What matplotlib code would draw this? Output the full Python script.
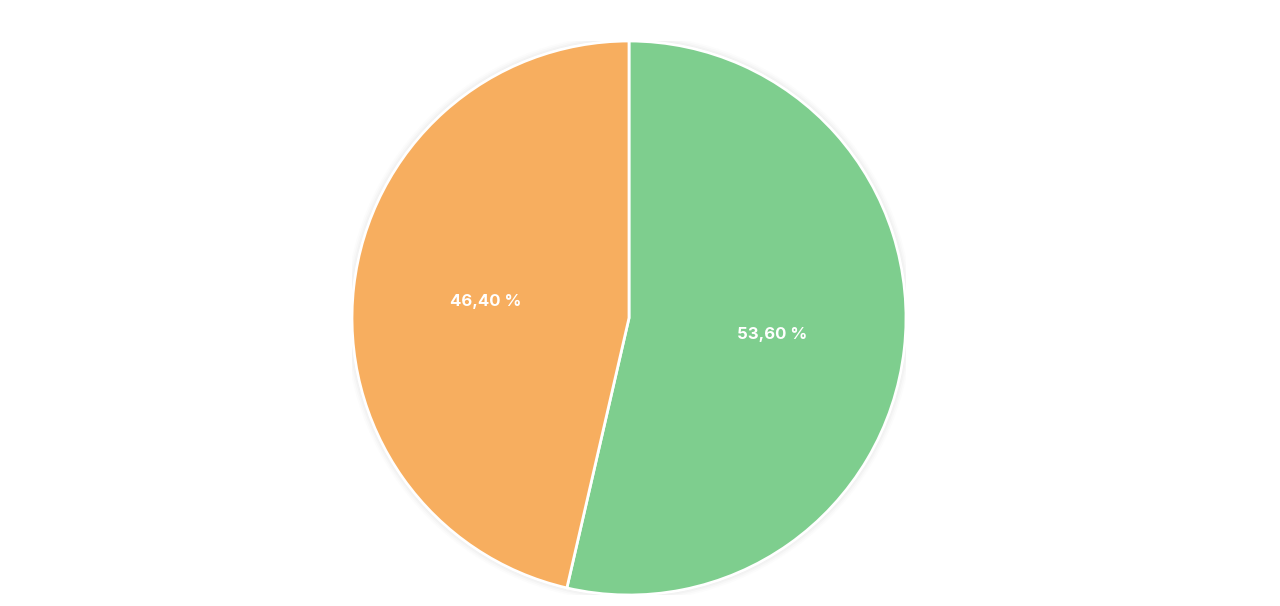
import matplotlib.pyplot as plt
from matplotlib.patches import Circle

labels = ['B', 'A']
values = [53.6, 46.4]
colors = ['#7ece8e', '#f7ae5f']

fig = plt.figure(figsize=(12.8, 6.06), dpi=100)
cx, cy, r = 629, 606 - 318, 277
ax = fig.add_axes([(cx - r) / 1280, (cy - r) / 606, 2 * r / 1280, 2 * r / 606])

# faint shadow ring
for i, a in enumerate([0.025, 0.02, 0.015, 0.01]):
    ax.add_patch(Circle((0, 0), 1.0 + 0.006 * (i + 1), color='#000000', alpha=a, lw=0, zorder=0))

wedges, texts = ax.pie(values, colors=colors, startangle=90, counterclock=False,
                       labels=[f'{v:.2f} %'.replace('.', ',') for v in values],
                       labeldistance=0.52,
                       wedgeprops=dict(edgecolor='white', linewidth=2))
for t in texts:
    t.set_color('white')
    t.set_fontsize(12)
    t.set_fontweight('bold')
    t.set_ha('center')
    t.set_va('center')
    t.set_family(['Inter', 'DejaVu Sans'])

ax.set_xlim(-1, 1)
ax.set_ylim(-1, 1)
ax.set_aspect('equal')
ax.axis('off')

fig.savefig('out.png', dpi=100)
